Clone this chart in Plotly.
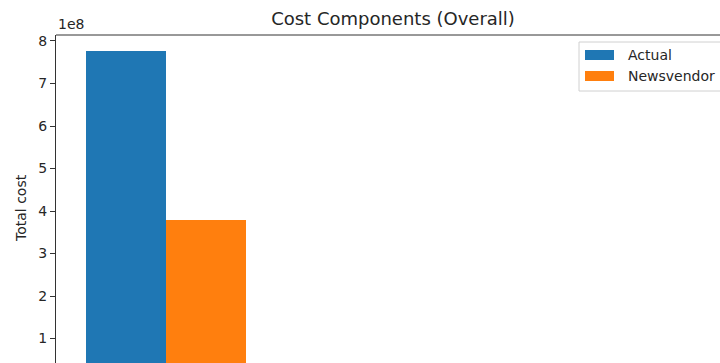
import plotly.graph_objects as go

categories = ["Total"]
series_names = ["Actual", "Newsvendor"]
series_colors = ["#1f77b4", "#ff7f0e"]
actual_values = [7.765e8]
newsvendor_values = [3.79e8]
ytick_vals = [1e8, 2e8, 3e8, 4e8, 5e8, 6e8, 7e8, 8e8]
ytick_text = ["1", "2", "3", "4", "5", "6", "7", "8"]

FONT = "DejaVu Sans"
TXT = "#262626"

FW, FH = 720, 363
PL, PR, PT, PB = 56, 720, 35, 363  # plot area in pixels
PW, PH = PR - PL, PB - PT


def px(xp):
    return (xp - PL) / PW


def py(yp):
    return (PB - yp) / PH


fig = go.Figure()
for name, color, vals in zip(series_names, series_colors, [actual_values, newsvendor_values]):
    fig.add_trace(go.Bar(x=categories, y=vals, name=name,
                         marker=dict(color=color, line=dict(width=0))))

shapes = [dict(type="line", xref="paper", yref="paper", x0=0, x1=1, y0=1, y1=1,
               line=dict(color="#333333", width=1))]
annotations = [
    dict(text="1e8", xref="paper", yref="paper", x=0, y=1, xanchor="left",
         yanchor="bottom", yshift=1, showarrow=False,
         font=dict(family=FONT, size=14, color=TXT)),
    dict(text="Total cost", xref="paper", yref="paper", x=px(21), xanchor="center",
         y=py(208), yanchor="middle", textangle=-90, showarrow=False,
         font=dict(family=FONT, size=14, color=TXT)),
]

# legend (matplotlib style), its right part runs off the visible area
shapes.append(dict(type="rect", xref="paper", yref="paper", x0=px(579), x1=px(740),
                   y0=py(91), y1=py(42), line=dict(color="#d0d0d0", width=1),
                   fillcolor="rgba(255,255,255,0.8)", layer="above"))
for i, (name, color) in enumerate(zip(series_names, series_colors)):
    yc = 55 + i * 21
    shapes.append(dict(type="rect", xref="paper", yref="paper", x0=px(585), x1=px(614),
                       y0=py(yc + 5), y1=py(yc - 5), line=dict(width=0),
                       fillcolor=color, layer="above"))
    annotations.append(dict(text=name, xref="paper", yref="paper", x=px(626), y=py(yc),
                            xanchor="left", yanchor="middle", showarrow=False,
                            font=dict(family=FONT, size=14, color=TXT)))

fig.update_layout(
    width=FW, height=FH,
    margin=dict(l=PL, r=FW - PR, t=PT, b=FH - PB, pad=0),
    paper_bgcolor="white", plot_bgcolor="white",
    barmode="group", bargap=0.5, bargroupgap=0,
    font=dict(family=FONT, size=14, color=TXT),
    title=dict(text="Cost Components (Overall)", xref="container",
               x=393 / FW, xanchor="center",
               yref="container", y=1 - 19 / FH, yanchor="middle",
               font=dict(family=FONT, size=18, color=TXT)),
    showlegend=False,
    xaxis=dict(type="category", range=[-0.34375, 1.73125], showgrid=False,
               showticklabels=False, ticks="", showline=False, zeroline=False,
               fixedrange=True),
    yaxis=dict(range=[0.424e8, 8.141e8], tickvals=ytick_vals, ticktext=ytick_text,
               ticks="outside", ticklen=5, tickwidth=1, tickcolor="#333333",
               showline=True, linecolor="#333333", linewidth=1,
               showgrid=False, zeroline=False,
               tickfont=dict(family=FONT, size=14, color=TXT)),
    shapes=shapes,
    annotations=annotations,
)

fig.write_html(
    "out.html",
    config={"displayModeBar": False, "staticPlot": True},
    post_script="document.body.style.margin='0';document.body.style.overflow='hidden';",
)
